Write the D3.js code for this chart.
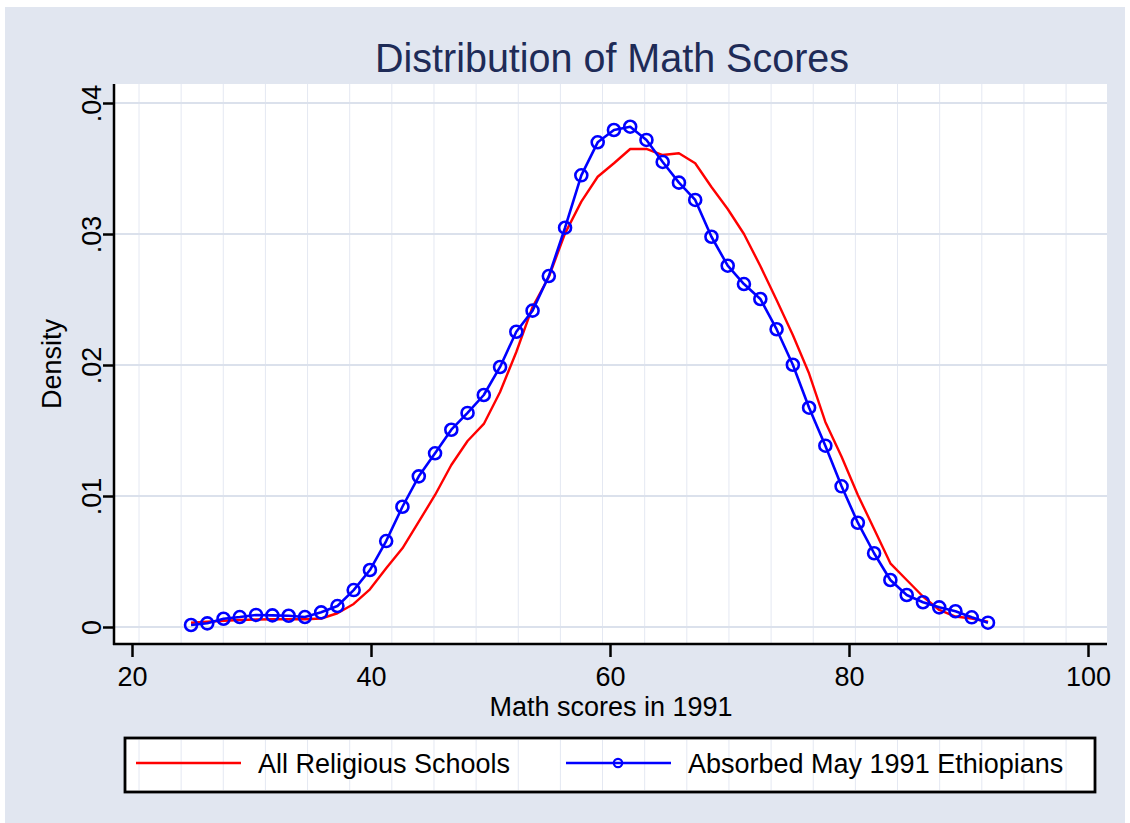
<!DOCTYPE html>
<html>
<head>
<meta charset="utf-8">
<script src="https://cdn.jsdelivr.net/npm/d3@7"></script>
<style>
  html, body { margin: 0; padding: 0; background: #ffffff; }
  svg { display: block; font-family: "Liberation Sans", Arial, sans-serif; }
</style>
</head>
<body>
<svg id="chart" width="1130" height="823"></svg>
<script>
// ---- Data ----
const titleText = "Distribution of Math Scores";
const xTitle = "Math scores in 1991";
const yTitle = "Density";
const xTicks = [20, 40, 60, 80, 100];
const yTicks = [0, 0.01, 0.02, 0.03, 0.04];
const yTickLabels = ["0", ".01", ".02", ".03", ".04"];
const seriesNames = ["All Religious Schools", "Absorbed May 1991 Ethiopians"];

// evaluation points (math score)
const scores = [24.94, 26.30, 27.66, 29.02, 30.38, 31.75, 33.11, 34.47, 35.83, 37.19,
  38.55, 39.91, 41.27, 42.63, 44.00, 45.36, 46.72, 48.08, 49.44, 50.80,
  52.16, 53.52, 54.88, 56.24, 57.60, 58.97, 60.33, 61.69, 63.05, 64.41,
  65.77, 67.13, 68.49, 69.85, 71.21, 72.58, 73.94, 75.30, 76.66, 78.02,
  79.38, 80.74, 82.10, 83.46, 84.83, 86.19, 87.55, 88.91, 90.27, 91.63];

// All Religious Schools (red line)
const densityAll = [0.00033, 0.00040, 0.00048, 0.00053, 0.00057, 0.00059, 0.00059, 0.00059, 0.00065, 0.00105,
  0.00176, 0.00288, 0.00448, 0.00601, 0.00804, 0.01008, 0.01237, 0.01420, 0.01550, 0.01794,
  0.02099, 0.02443, 0.02672, 0.03005, 0.03247, 0.03437, 0.03540, 0.03649, 0.03649, 0.03603,
  0.03616, 0.03540, 0.03359, 0.03191, 0.03000, 0.02756, 0.02496, 0.02229, 0.01935, 0.01565,
  0.01300, 0.01008, 0.00748, 0.00486, 0.00359, 0.00233, 0.00130, 0.00080, 0.00065, 0.00040];

// Absorbed May 1991 Ethiopians (blue line with hollow circles)
const densityEth = [0.00015, 0.00028, 0.00063, 0.00076, 0.00092, 0.00089, 0.00086, 0.00076, 0.00112, 0.00160,
  0.00282, 0.00435, 0.00656, 0.00918, 0.01150, 0.01326, 0.01506, 0.01634, 0.01771, 0.01985,
  0.02254, 0.02415, 0.02679, 0.03048, 0.03448, 0.03700, 0.03794, 0.03819, 0.03718, 0.03550,
  0.03392, 0.03260, 0.02979, 0.02758, 0.02618, 0.02504, 0.02273, 0.02002, 0.01674, 0.01384,
  0.01074, 0.00796, 0.00563, 0.00359, 0.00244, 0.00189, 0.00150, 0.00120, 0.00074, 0.00033];

// ---- Layout ----
const plot = { left: 114, right: 1107, top: 84, bottom: 644 };
const bg = "#e1e6f0";
const gridCol = "#dbe1ec";
const vgridCol = "#e4e8f2";
const red = "#ff0000", blue = "#0000ff";

const svg = d3.select("#chart");

const x = d3.scaleLinear().domain([20, 100]).range([132, 1088]);
const y = d3.scaleLinear().domain([0, 0.04]).range([627, 103]);

// graph region background
svg.append("rect").attr("x", 5).attr("y", 7).attr("width", 1120).attr("height", 816).attr("fill", bg);

// plot region
svg.append("rect").attr("x", plot.left).attr("y", plot.top)
  .attr("width", plot.right - plot.left).attr("height", plot.bottom - plot.top).attr("fill", "#ffffff");

// faint vertical lines seen in white areas
const vLines = d3.range(0, 23).map(k => 139 + k * 42.14);
svg.append("g").selectAll("line").data(vLines).join("line")
  .attr("x1", d => d).attr("x2", d => d)
  .attr("y1", plot.top).attr("y2", plot.bottom - 1)
  .attr("stroke", vgridCol).attr("stroke-width", 1);

// horizontal gridlines
svg.append("g").selectAll("line").data(yTicks).join("line")
  .attr("x1", plot.left).attr("x2", plot.right)
  .attr("y1", d => y(d)).attr("y2", d => y(d))
  .attr("stroke", gridCol).attr("stroke-width", 2.2);

// title
svg.append("text").attr("x", 612).attr("y", 72).attr("text-anchor", "middle")
  .attr("font-size", 40).attr("fill", "#1e2b57")
  .attr("textLength", 474).attr("lengthAdjust", "spacingAndGlyphs").text(titleText);

// Axes
const xAxis = d3.axisBottom(x).tickValues(xTicks).tickSize(13).tickPadding(10).tickFormat(d3.format("d"));
const gx = svg.append("g").attr("transform", `translate(0,${plot.bottom})`).call(xAxis);
gx.select(".domain").remove();
gx.selectAll(".tick line").attr("stroke", "#000").attr("stroke-width", 2.5);
gx.selectAll(".tick text").attr("font-size", 27).attr("fill", "#000")
  .attr("font-family", "Liberation Sans, Arial, sans-serif").attr("dy", "0.71em");
svg.append("line").attr("x1", plot.left - 1).attr("x2", plot.right).attr("y1", plot.bottom).attr("y2", plot.bottom)
  .attr("stroke", "#000").attr("stroke-width", 2.5);

const yAxis = d3.axisLeft(y).tickValues(yTicks).tickSize(11).tickPadding(13)
  .tickFormat((d, i) => yTickLabels[i]);
const gy = svg.append("g").attr("transform", `translate(${plot.left},0)`).call(yAxis);
gy.select(".domain").remove();
gy.selectAll(".tick line").attr("stroke", "#000").attr("stroke-width", 2.5);
gy.selectAll(".tick text")
  .attr("font-size", 27).attr("fill", "#000")
  .attr("font-family", "Liberation Sans, Arial, sans-serif")
  .attr("x", null).attr("dy", null)
  .attr("text-anchor", "middle")
  .attr("transform", "translate(-13,0) rotate(-90)")
  .attr("y", 0);
svg.append("line").attr("x1", plot.left).attr("x2", plot.left).attr("y1", plot.top).attr("y2", plot.bottom + 1)
  .attr("stroke", "#000").attr("stroke-width", 2.5);

// axis titles
svg.append("text").attr("x", 611).attr("y", 716).attr("text-anchor", "middle")
  .attr("font-size", 27).attr("fill", "#000").text(xTitle);
svg.append("text").attr("transform", `translate(61,${(plot.top + plot.bottom) / 2}) rotate(-90)`)
  .attr("text-anchor", "middle").attr("font-size", 27).attr("fill", "#000").text(yTitle);

// series
const line = d3.line().x(d => x(d[0])).y(d => y(d[1]));
const allPts = scores.map((s, i) => [s, densityAll[i]]);
const ethPts = scores.map((s, i) => [s, densityEth[i]]);

svg.append("path").datum(allPts).attr("d", line).attr("fill", "none")
  .attr("stroke", red).attr("stroke-width", 2.4).attr("stroke-linejoin", "round");
svg.append("path").datum(ethPts).attr("d", line).attr("fill", "none")
  .attr("stroke", blue).attr("stroke-width", 2.6).attr("stroke-linejoin", "round");
svg.append("g").selectAll("circle").data(ethPts).join("circle")
  .attr("cx", d => x(d[0])).attr("cy", d => y(d[1])).attr("r", 6)
  .attr("fill", "none").attr("stroke", blue).attr("stroke-width", 2.6);

// legend
const lg = { x: 125, y: 738, w: 970, h: 54 };
svg.append("rect").attr("x", lg.x).attr("y", lg.y).attr("width", lg.w).attr("height", lg.h)
  .attr("fill", "#fff");
svg.append("g").selectAll("line").data(vLines.filter(v => v > lg.x + 3 && v < lg.x + lg.w - 3)).join("line")
  .attr("x1", d => d).attr("x2", d => d).attr("y1", lg.y + 2).attr("y2", lg.y + lg.h - 2)
  .attr("stroke", vgridCol).attr("stroke-width", 1);
svg.append("rect").attr("x", lg.x).attr("y", lg.y).attr("width", lg.w).attr("height", lg.h)
  .attr("fill", "none").attr("stroke", "#000").attr("stroke-width", 2.8);

const legY = 763;
svg.append("line").attr("x1", 136).attr("x2", 241).attr("y1", legY).attr("y2", legY)
  .attr("stroke", red).attr("stroke-width", 2.5);
svg.append("text").attr("x", 258).attr("y", 773).attr("font-size", 27).attr("fill", "#000").text(seriesNames[0]);
svg.append("line").attr("x1", 566).attr("x2", 671).attr("y1", legY).attr("y2", legY)
  .attr("stroke", blue).attr("stroke-width", 2.5);
svg.append("circle").attr("cx", 618).attr("cy", legY).attr("r", 4.2)
  .attr("fill", "none").attr("stroke", blue).attr("stroke-width", 2.2);
svg.append("text").attr("x", 688).attr("y", 773).attr("font-size", 27).attr("fill", "#000").text(seriesNames[1]);
</script>
</body>
</html>
